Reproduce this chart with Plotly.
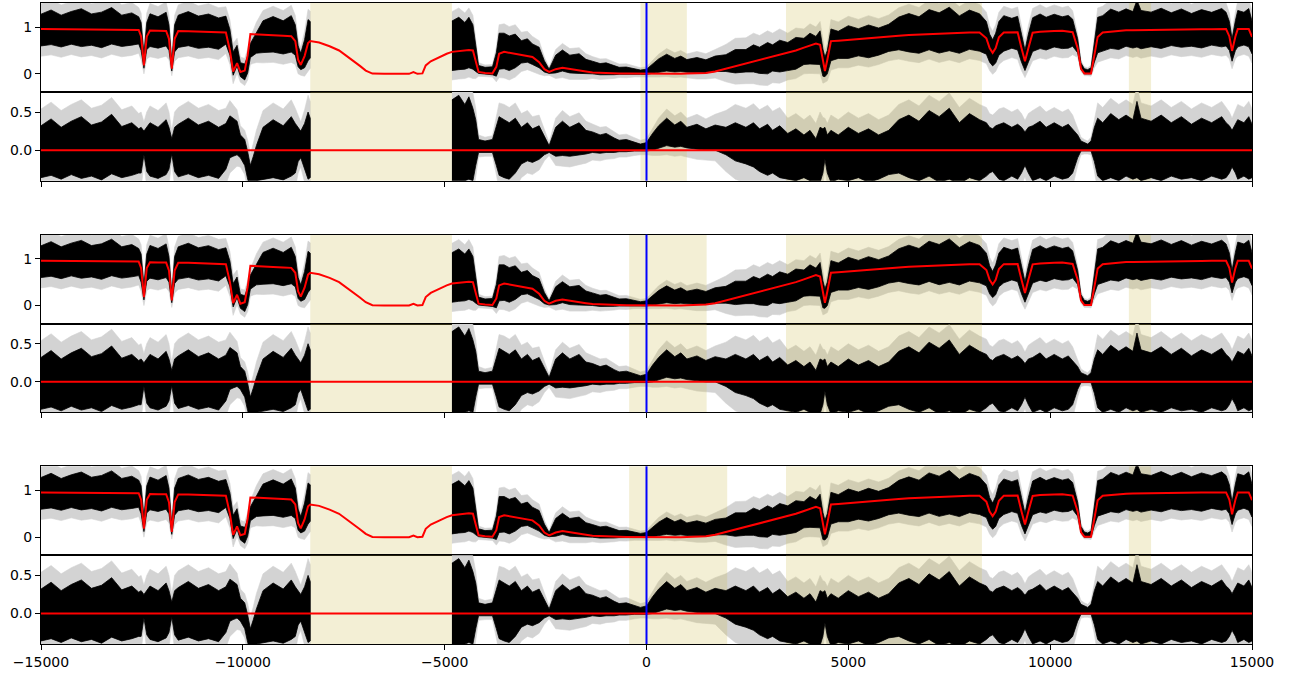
import plotly.graph_objects as go

# ---------------- data ----------------
# left data segment (velocity, km/s)
wave_L = [-15000, -14750, -14500, -14250, -14000, -13750, -13500, -13250, -13000, -12750,
          -12580, -12520, -12450, -12380, -12300, -12100, -11900, -11830, -11760, -11690,
          -11600, -11350, -11100, -10850, -10600, -10420, -10320, -10240, -10143, -10060,
          -9953, -9880, -9813, -9740, -9664, -9500, -9250, -9000, -8800, -8700,
          -8630, -8565, -8470, -8384, -8330]
model_L = [0.957, 0.956, 0.955, 0.954, 0.953, 0.952, 0.950, 0.948, 0.946, 0.944,
           0.940, 0.800, 0.180, 0.800, 0.925, 0.920, 0.918, 0.750, 0.110, 0.750,
           0.915, 0.912, 0.905, 0.900, 0.895, 0.885, 0.500, 0.050, 0.230, 0.040,
           0.070, 0.400, 0.850, 0.845, 0.842, 0.835, 0.826, 0.815, 0.805, 0.700,
           0.300, 0.190, 0.380, 0.660, 0.700]
reslo_L = [-0.36, -0.33, -0.38, -0.32, -0.37, -0.34, -0.39, -0.31, -0.36, -0.33,
           -0.30, -0.30, -0.06, -0.28, -0.34, -0.37, -0.32, -0.25, -0.05, -0.28,
           -0.35, -0.31, -0.36, -0.33, -0.37, -0.25, -0.10, -0.08, -0.06, -0.10,
           -0.20, -0.38, -0.50, -0.45, -0.40, -0.38, -0.36, -0.39, -0.34, -0.30,
           -0.15, -0.10, -0.25, -0.38, -0.36]
reshi_L = [0.32, 0.41, 0.30, 0.38, 0.44, 0.33, 0.37, 0.47, 0.31, 0.36,
           0.28, 0.30, 0.25, 0.30, 0.36, 0.30, 0.40, 0.30, 0.15, 0.30,
           0.34, 0.42, 0.33, 0.38, 0.30, 0.35, 0.45, 0.42, 0.38, 0.20,
           0.14, -0.02, -0.20, -0.08, 0.06, 0.30, 0.40, 0.32, 0.44, 0.35,
           0.30, 0.25, 0.35, 0.50, 0.42]
err_L = [0.22, 0.22, 0.22, 0.22, 0.22, 0.22, 0.22, 0.22, 0.22, 0.22,
         0.20, 0.20, 0.12, 0.20, 0.22, 0.22, 0.22, 0.20, 0.10, 0.20,
         0.22, 0.22, 0.22, 0.22, 0.22, 0.20, 0.20, 0.18, 0.15, 0.12,
         0.12, 0.15, 0.15, 0.17, 0.20, 0.22, 0.22, 0.22, 0.22, 0.20,
         0.15, 0.12, 0.18, 0.22, 0.22]

# model only, inside the data gap
wave_G = [-8110, -7850, -7615, -7450, -7285, -7100, -6955, -6790, -6500, -6200,
          -5882, -5774, -5675, -5551, -5469, -5345, -5138, -4950]
model_G = [0.67, 0.59, 0.50, 0.40, 0.29, 0.17, 0.07, 0.005, 0.0, 0.0,
           0.0, 0.036, 0.0, 0.01, 0.18, 0.27, 0.36, 0.43]

# right data segment
wave_R = [-4820, -4650, -4500, -4400, -4300, -4230, -4160, -4000, -3816, -3720,
          -3651, -3527, -3400, -3250, -3100, -2950, -2825, -2660, -2530, -2412,
          -2250, -2082, -1900, -1669, -1500, -1338, -1150, -1000, -800, -678,
          -500, -300, -150, 0, 150, 300, 500, 700, 850, 1000,
          1250, 1471, 1700, 1967, 2200, 2462, 2650, 2800, 3000, 3123,
          3300, 3500, 3700, 3900, 4050, 4197, 4300, 4370, 4420, 4480,
          4569, 4750, 5000, 5250, 5500, 5750, 6000, 6250, 6500, 6750,
          7000, 7250, 7500, 7750, 8000, 8250, 8420, 8500, 8575, 8650,
          8730, 8850, 9050, 9194, 9290, 9376, 9460, 9566, 9750, 9900,
          10100, 10300, 10450, 10557, 10681, 10764, 10847, 10930, 11012, 11095,
          11177, 11301, 11500, 11700, 11880, 12050, 12150, 12250, 12500, 12750,
          13000, 13250, 13500, 13750, 14000, 14250, 14358, 14440, 14506, 14589,
          14647, 14800, 14920, 15000]
model_R = [0.470, 0.490, 0.500, 0.510, 0.500, 0.250, 0.040, 0.020, 0.010, 0.150,
           0.430, 0.470, 0.450, 0.430, 0.410, 0.390, 0.360, 0.250, 0.100, 0.040,
           0.100, 0.130, 0.100, 0.070, 0.050, 0.030, 0.020, 0.015, 0.012, 0.010,
           0.006, 0.003, 0.001, 0.000, 0.000, 0.000, 0.000, 0.000, 0.000, 0.005,
           0.010, 0.020, 0.050, 0.110, 0.160, 0.220, 0.260, 0.290, 0.330, 0.360,
           0.400, 0.450, 0.500, 0.560, 0.610, 0.650, 0.620, 0.250, 0.060, 0.300,
           0.700, 0.710, 0.730, 0.745, 0.765, 0.780, 0.800, 0.815, 0.830, 0.840,
           0.855, 0.865, 0.875, 0.880, 0.884, 0.885, 0.760, 0.550, 0.450, 0.550,
           0.780, 0.885, 0.888, 0.890, 0.550, 0.270, 0.550, 0.880, 0.900, 0.910,
           0.915, 0.920, 0.910, 0.890, 0.550, 0.110, 0.010, 0.010, 0.010, 0.400,
           0.790, 0.885, 0.905, 0.920, 0.930, 0.932, 0.934, 0.936, 0.940, 0.943,
           0.946, 0.948, 0.951, 0.954, 0.955, 0.957, 0.957, 0.800, 0.490, 0.800,
           0.957, 0.957, 0.957, 0.790]
reslo_R = [-0.40, -0.40, -0.40, -0.38, -0.40, -0.20, -0.03, -0.03, -0.03, -0.20,
           -0.33, -0.36, -0.38, -0.30, -0.18, -0.14, -0.16, -0.12, -0.06, -0.03,
           -0.08, -0.07, -0.08, -0.06, -0.05, -0.03, -0.04, -0.03, -0.03, -0.02,
           -0.02, -0.01, -0.01, -0.01, 0.00, 0.03, 0.06, 0.04, 0.05, 0.03,
           0.01, 0.00, 0.00, -0.06, -0.14, -0.18, -0.22, -0.28, -0.33, -0.30,
           -0.36, -0.38, -0.40, -0.36, -0.40, -0.44, -0.42, -0.30, -0.12, -0.30,
           -0.42, -0.38, -0.40, -0.36, -0.42, -0.38, -0.32, -0.30, -0.36, -0.40,
           -0.34, -0.42, -0.38, -0.44, -0.36, -0.40, -0.34, -0.30, -0.28, -0.32,
           -0.38, -0.40, -0.34, -0.38, -0.30, -0.20, -0.30, -0.40, -0.36, -0.40,
           -0.34, -0.38, -0.36, -0.30, -0.10, -0.01, -0.01, -0.01, -0.01, -0.15,
           -0.34, -0.40, -0.36, -0.40, -0.34, -0.38, -0.36, -0.40, -0.36, -0.40,
           -0.34, -0.38, -0.36, -0.40, -0.34, -0.38, -0.36, -0.30, -0.22, -0.30,
           -0.38, -0.34, -0.38, -0.36]
reshi_R = [0.66, 0.72, 0.60, 0.70, 0.55, 0.40, 0.14, 0.12, 0.14, 0.30,
           0.44, 0.40, 0.36, 0.42, 0.30, 0.36, 0.28, 0.32, 0.18, 0.06,
           0.30, 0.38, 0.30, 0.36, 0.26, 0.24, 0.20, 0.22, 0.16, 0.13,
           0.14, 0.10, 0.08, 0.10, 0.22, 0.32, 0.42, 0.33, 0.38, 0.30,
           0.34, 0.28, 0.33, 0.30, 0.36, 0.30, 0.36, 0.28, 0.34, 0.26,
           0.32, 0.22, 0.28, 0.20, 0.26, 0.15, 0.30, 0.28, 0.30, 0.20,
           0.26, 0.20, 0.30, 0.22, 0.28, 0.20, 0.26, 0.40, 0.46, 0.38,
           0.52, 0.44, 0.55, 0.36, 0.48, 0.40, 0.36, 0.30, 0.28, 0.32,
           0.34, 0.36, 0.30, 0.34, 0.30, 0.24, 0.30, 0.32, 0.38, 0.30,
           0.36, 0.30, 0.34, 0.28, 0.20, 0.12, 0.10, 0.08, 0.12, 0.30,
           0.42, 0.36, 0.48, 0.40, 0.46, 0.40, 0.64, 0.42, 0.38, 0.46,
           0.36, 0.44, 0.34, 0.42, 0.36, 0.44, 0.36, 0.32, 0.26, 0.34,
           0.40, 0.36, 0.44, 0.34]
err_R = [0.20, 0.20, 0.20, 0.20, 0.20, 0.15, 0.06, 0.05, 0.05, 0.12,
         0.18, 0.20, 0.20, 0.20, 0.18, 0.16, 0.16, 0.14, 0.08, 0.04,
         0.12, 0.14, 0.14, 0.13, 0.12, 0.10, 0.10, 0.09, 0.08, 0.07,
         0.07, 0.06, 0.05, 0.05, 0.07, 0.10, 0.12, 0.12, 0.12, 0.12,
         0.13, 0.13, 0.14, 0.22, 0.24, 0.25, 0.25, 0.25, 0.25, 0.25,
         0.24, 0.20, 0.20, 0.20, 0.20, 0.20, 0.20, 0.15, 0.12, 0.15,
         0.20, 0.20, 0.20, 0.20, 0.20, 0.20, 0.20, 0.20, 0.20, 0.20,
         0.20, 0.20, 0.20, 0.20, 0.20, 0.20, 0.20, 0.18, 0.18, 0.18,
         0.20, 0.20, 0.20, 0.20, 0.18, 0.15, 0.18, 0.20, 0.20, 0.20,
         0.20, 0.20, 0.20, 0.18, 0.10, 0.05, 0.04, 0.04, 0.05, 0.12,
         0.20, 0.20, 0.20, 0.20, 0.20, 0.20, 0.20, 0.20, 0.20, 0.20,
         0.20, 0.20, 0.20, 0.20, 0.20, 0.20, 0.20, 0.18, 0.16, 0.18,
         0.20, 0.20, 0.20, 0.20]

# shaded (excluded) velocity windows, one list per panel pair
spans_pair1 = [(-8330, -4820), (-150, 1000), (3455, 8310), (11950, 12500)]
spans_pair2 = [(-8330, -4820), (-430, 1490), (3455, 8310), (11950, 12500)]
spans_pair3 = [(-8330, -4820), (-430, 2000), (3455, 8310), (11950, 12500)]

x_ticks = [-15000, -10000, -5000, 0, 5000, 10000, 15000]
x_ticktext = ["\u221215000", "\u221210000", "\u22125000", "0", "5000", "10000", "15000"]
flux_ticks = [0, 1]
flux_ticktext = ["0", "1"]
res_ticks = [0.0, 0.5]
res_ticktext = ["0.0", "0.5"]

# ---------------- styling ----------------
X_RANGE = [-15000, 15000]
FLUX_RANGE = [-0.385, 1.515]
RES_RANGE = [-0.40, 0.765]
GRAY = "#d3d3d3"
SPAN_COL = "rgba(205,190,80,0.24)"
RED = "#ff0000"
BLUE = "#0000ff"

segments = [(wave_L, model_L, reslo_L, reshi_L, err_L),
            (wave_R, model_R, reslo_R, reshi_R, err_R)]


def band(top, pad):
    """polygon (x, y) of the data band; top=True adds the model."""
    xs, ys = [], []
    for w, m, lo, hi, e in segments:
        base = m if top else [0.0] * len(w)
        upper = [b + h + (q if pad else 0) for b, h, q in zip(base, hi, e)]
        lower = [b + l - (q if pad else 0) for b, l, q in zip(base, lo, e)]
        xs += list(w) + list(w[::-1]) + [None]
        ys += upper + lower[::-1] + [None]
    return xs, ys


def span_poly(spans, yr):
    xs, ys = [], []
    for a, b in spans:
        xs += [a, a, b, b, a, None]
        ys += [yr[0] - 1, yr[1] + 1, yr[1] + 1, yr[0] - 1, yr[0] - 1, None]
    return xs, ys


model_x = wave_L + wave_G + wave_R
model_y = model_L + model_G + model_R

fig = go.Figure()

h = 88.83 / 641.0
g = 54.0 / 641.0
domains = {
    1: [5 * h + 2 * g, 6 * h + 2 * g],
    2: [4 * h + 2 * g, 5 * h + 2 * g],
    3: [3 * h + g, 4 * h + g],
    4: [2 * h + g, 3 * h + g],
    5: [h, 2 * h],
    6: [0, h],
}

all_spans = [spans_pair1, spans_pair2, spans_pair3]
shapes = []
for p in range(3):
    for k, top in ((2 * p + 1, True), (2 * p + 2, False)):
        xa = "x" if k == 1 else f"x{k}"
        ya = "y" if k == 1 else f"y{k}"
        yr = FLUX_RANGE if top else RES_RANGE
        gx, gy = band(top, True)
        fig.add_trace(go.Scatter(x=gx, y=gy, fill="toself", fillcolor=GRAY,
                                 line=dict(width=0.6, color=GRAY), mode="lines",
                                 xaxis=xa, yaxis=ya, hoverinfo="skip"))
        sx, sy = span_poly(all_spans[p], yr)
        fig.add_trace(go.Scatter(x=sx, y=sy, fill="toself", fillcolor=SPAN_COL,
                                 line=dict(width=0), mode="lines",
                                 xaxis=xa, yaxis=ya, hoverinfo="skip"))
        bx, by = band(top, False)
        fig.add_trace(go.Scatter(x=bx, y=by, fill="toself", fillcolor="black",
                                 line=dict(width=0.8, color="black"), mode="lines",
                                 xaxis=xa, yaxis=ya, hoverinfo="skip"))
        if top:
            fig.add_trace(go.Scatter(x=model_x, y=model_y, mode="lines",
                                     line=dict(color=RED, width=2),
                                     xaxis=xa, yaxis=ya))
        else:
            fig.add_trace(go.Scatter(x=[model_x[0], model_x[-1]], y=[0.0, 0.0],
                                     mode="lines", line=dict(color=RED, width=2),
                                     xaxis=xa, yaxis=ya))
        shapes.append(dict(type="line", xref=xa, yref=f"{ya} domain",
                           x0=0, x1=0, y0=0, y1=1, layer="above",
                           line=dict(color=BLUE, width=2)))

layout = dict(width=1294, height=677,
              margin=dict(l=41, r=42, t=3, b=33),
              plot_bgcolor="white", paper_bgcolor="white",
              showlegend=False,
              font=dict(family="DejaVu Sans", size=14, color="black"),
              shapes=shapes)

for k in range(1, 7):
    top = (k % 2 == 1)
    xkey = "xaxis" if k == 1 else f"xaxis{k}"
    ykey = "yaxis" if k == 1 else f"yaxis{k}"
    layout[xkey] = dict(domain=[0, 1], anchor="y" if k == 1 else f"y{k}",
                        range=X_RANGE, showgrid=False, zeroline=False,
                        showline=True, mirror=True, linecolor="black", linewidth=1,
                        tickmode="array", tickvals=x_ticks, ticktext=x_ticktext,
                        ticks="" if top else "outside", ticklen=5, tickwidth=1,
                        tickcolor="black", showticklabels=(k == 6))
    layout[ykey] = dict(domain=domains[k], anchor="x" if k == 1 else f"x{k}",
                        range=FLUX_RANGE if top else RES_RANGE,
                        showgrid=False, zeroline=False,
                        showline=True, mirror=True, linecolor="black", linewidth=1,
                        tickmode="array",
                        tickvals=flux_ticks if top else res_ticks,
                        ticktext=flux_ticktext if top else res_ticktext,
                        ticks="outside", ticklen=5, tickwidth=1, tickcolor="black")

fig.update_layout(**layout)
fig.write_html("out.html")
